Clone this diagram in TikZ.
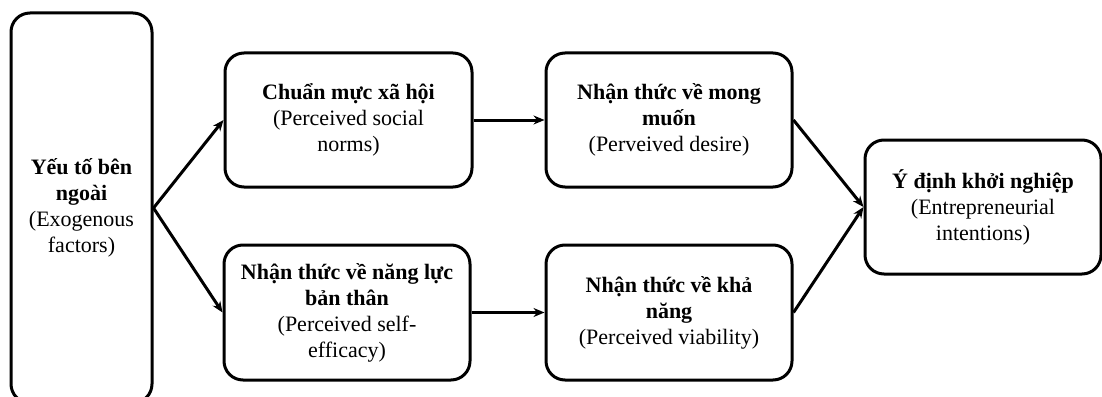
\documentclass[tikz,border=0pt]{standalone}
\usepackage{fontspec}
\setmainfont{Liberation Serif}
\usetikzlibrary{arrows.meta}
\begin{document}
\begin{tikzpicture}[x=1pt,y=-1pt,
  box/.style={draw=black,line width=3pt,rounded corners=19pt,align=center,
    inner sep=0pt,font=\fontsize{22}{26}\selectfont},
  link/.style={line width=3pt,-{Stealth[length=11pt,width=9pt]}}]
\useasboundingbox (0,0) rectangle (1102,396);
\node[box,minimum width=141pt,minimum height=390pt] (L) at (81.5,208)
  {\textbf{Yếu tố bên}\\\textbf{ngoài}\\(Exogenous\\factors)};
\node[box,minimum width=247pt,minimum height=134pt] (A) at (348.5,120)
  {\textbf{Chuẩn mực xã hội}\\(Perceived social\\norms)};
\node[box,minimum width=246pt,minimum height=135pt] (B) at (347,312.5)
  {\textbf{Nhận thức về năng lực}\\\textbf{bản thân}\\(Perceived self-\\efficacy)};
\node[box,minimum width=246pt,minimum height=134pt] (C) at (669,120)
  {\textbf{Nhận thức về mong}\\\textbf{muốn}\\(Perveived desire)};
\node[box,minimum width=246pt,minimum height=135pt] (D) at (669,312.5)
  {\textbf{Nhận thức về khả}\\\textbf{năng}\\(Perceived viability)};
\node[box,minimum width=236pt,minimum height=134pt] (E) at (983,207)
  {\textbf{Ý định khởi nghiệp}\\(Entrepreneurial\\intentions)};
\draw[link] (L.east) -- (A.west);
\draw[link] (L.east) -- (B.west);
\draw[link] (A.east) -- (C.west);
\draw[link] (B.east) -- (D.west);
\draw[link] (C.east) -- (E.west);
\draw[link] (D.east) -- (E.west);
\end{tikzpicture}
\end{document}
